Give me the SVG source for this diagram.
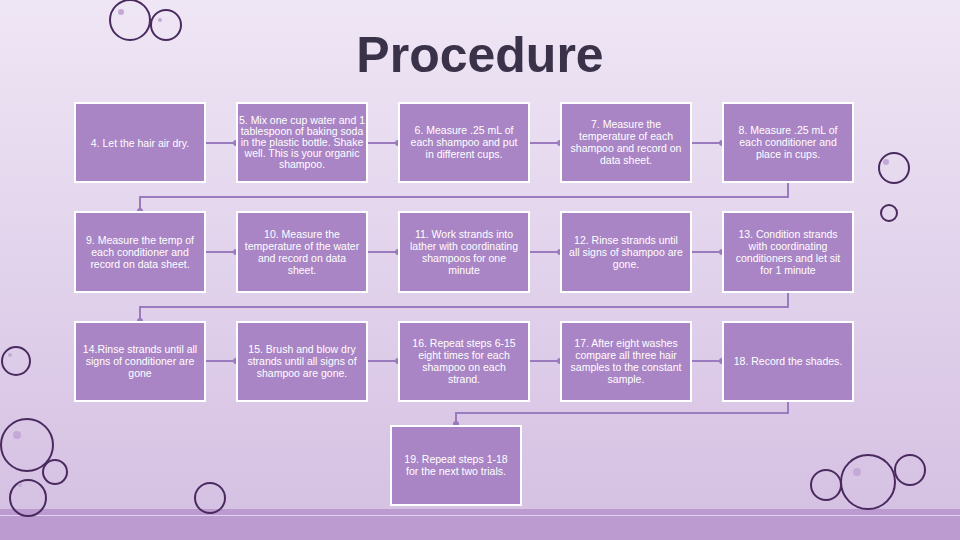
<svg xmlns="http://www.w3.org/2000/svg" width="960" height="540" viewBox="0 0 960 540">
<defs>
<linearGradient id="bg" x1="0" y1="0" x2="0" y2="1"><stop offset="0" stop-color="#efe6f5"/><stop offset="1" stop-color="#d4bfe2"/></linearGradient>
<marker id="m" viewBox="0 0 6 6" refX="3" refY="3" markerWidth="3" markerHeight="3"><circle cx="3" cy="3" r="3" fill="#9a7bbd"/></marker>
</defs>
<style>
.b{fill:#a985c5;stroke:#fff;stroke-width:2}
.t{font-family:"Liberation Sans",Arial,sans-serif;font-size:10.5px;fill:#fff;text-anchor:middle}
.c{fill:none;stroke:#9a7bbd;stroke-width:2;marker-end:url(#m)}
.o{fill:none;stroke:#4a2a5e;stroke-width:2}
.d{fill:#c4a9d6}
</style>
<rect width="960" height="540" fill="url(#bg)"/>
<rect y="509" width="960" height="31" fill="#bb9bd0"/>
<rect y="515" width="960" height="1" fill="#e2d2ec"/>
<g>
<circle class="o" cx="130" cy="20" r="20"/><circle class="d" cx="121" cy="12" r="3"/>
<circle class="o" cx="166" cy="25" r="15"/><circle class="d" cx="160" cy="20" r="2"/>
<circle class="o" cx="894" cy="168" r="15"/><circle class="d" cx="886" cy="162" r="3"/>
<circle class="o" cx="889" cy="213" r="8"/>
<circle class="o" cx="16" cy="361" r="14"/><circle class="d" cx="10" cy="355" r="2"/>
<circle class="o" cx="27" cy="445" r="26"/><circle class="d" cx="17" cy="435" r="4"/>
<circle class="o" cx="55" cy="472" r="12"/>
<circle class="o" cx="28" cy="498" r="18"/><circle class="d" cx="20" cy="485" r="2"/>
<circle class="o" cx="210" cy="498" r="15"/>
<circle class="o" cx="868" cy="482" r="27"/><circle class="d" cx="857" cy="472" r="4"/>
<circle class="o" cx="910" cy="470" r="15"/>
<circle class="o" cx="826" cy="485" r="15"/>
</g>
<text x="480" y="72" font-family="Liberation Sans,Arial,sans-serif" font-weight="bold" font-size="50" fill="#3a3248" text-anchor="middle">Procedure</text>
<g id="connectors">
<path class="c" d="M205 143H236"/><path class="c" d="M367 143H398"/><path class="c" d="M529 143H560"/><path class="c" d="M691 143H722"/>
<path class="c" d="M788 182V197H140V211"/>
<path class="c" d="M205 252H236"/><path class="c" d="M367 252H398"/><path class="c" d="M529 252H560"/><path class="c" d="M691 252H722"/>
<path class="c" d="M788 292V307H140V321"/>
<path class="c" d="M205 361H236"/><path class="c" d="M367 361H398"/><path class="c" d="M529 361H560"/><path class="c" d="M691 361H722"/>
<path class="c" d="M788 401V413H456V424"/>
</g>
<g id="n4"><rect class="b" x="75" y="103" width="130" height="79"/><text class="t" x="140" y="147">4. Let the hair air dry.</text></g>
<g id="n5"><rect class="b" x="237" y="103" width="130" height="79"/><text class="t" font-size="9.5" x="302" y="124">5. Mix one cup water and 1<tspan x="302" dy="11">tablespoon of baking soda</tspan><tspan x="302" dy="11">in the plastic bottle. Shake</tspan><tspan x="302" dy="11">well. This is your organic</tspan><tspan x="302" dy="11">shampoo.</tspan></text></g>
<g id="n6"><rect class="b" x="399" y="103" width="130" height="79"/><text class="t" x="464" y="134">6. Measure .25 mL of<tspan x="464" dy="12">each shampoo and put</tspan><tspan x="464" dy="12">in different cups.</tspan></text></g>
<g id="n7"><rect class="b" x="561" y="103" width="130" height="79"/><text class="t" x="626" y="128">7. Measure the<tspan x="626" dy="12">temperature of each</tspan><tspan x="626" dy="12">shampoo and record on</tspan><tspan x="626" dy="12">data sheet.</tspan></text></g>
<g id="n8"><rect class="b" x="723" y="103" width="130" height="79"/><text class="t" x="788" y="134">8. Measure .25 mL of<tspan x="788" dy="12">each conditioner and</tspan><tspan x="788" dy="12">place in cups.</tspan></text></g>
<g id="n9"><rect class="b" x="75" y="212" width="130" height="80"/><text class="t" x="140" y="244">9. Measure the temp of<tspan x="140" dy="12">each conditioner and</tspan><tspan x="140" dy="12">record on data sheet.</tspan></text></g>
<g id="n10"><rect class="b" x="237" y="212" width="130" height="80"/><text class="t" x="302" y="238">10. Measure the<tspan x="302" dy="12">temperature of the water</tspan><tspan x="302" dy="12">and record on data</tspan><tspan x="302" dy="12">sheet.</tspan></text></g>
<g id="n11"><rect class="b" x="399" y="212" width="130" height="80"/><text class="t" x="464" y="238">11. Work strands into<tspan x="464" dy="12">lather with coordinating</tspan><tspan x="464" dy="12">shampoos for one</tspan><tspan x="464" dy="12">minute</tspan></text></g>
<g id="n12"><rect class="b" x="561" y="212" width="130" height="80"/><text class="t" x="626" y="244">12. Rinse strands until<tspan x="626" dy="12">all signs of shampoo are</tspan><tspan x="626" dy="12">gone.</tspan></text></g>
<g id="n13"><rect class="b" x="723" y="212" width="130" height="80"/><text class="t" x="788" y="238">13. Condition strands<tspan x="788" dy="12">with coordinating</tspan><tspan x="788" dy="12">conditioners and let sit</tspan><tspan x="788" dy="12">for 1 minute</tspan></text></g>
<g id="n14"><rect class="b" x="75" y="322" width="130" height="79"/><text class="t" x="140" y="353">14.Rinse strands until all<tspan x="140" dy="12">signs of conditioner are</tspan><tspan x="140" dy="12">gone</tspan></text></g>
<g id="n15"><rect class="b" x="237" y="322" width="130" height="79"/><text class="t" x="302" y="353">15. Brush and blow dry<tspan x="302" dy="12">strands until all signs of</tspan><tspan x="302" dy="12">shampoo are gone.</tspan></text></g>
<g id="n16"><rect class="b" x="399" y="322" width="130" height="79"/><text class="t" x="464" y="347">16. Repeat steps 6-15<tspan x="464" dy="12">eight times for each</tspan><tspan x="464" dy="12">shampoo on each</tspan><tspan x="464" dy="12">strand.</tspan></text></g>
<g id="n17"><rect class="b" x="561" y="322" width="130" height="79"/><text class="t" x="626" y="347">17. After eight washes<tspan x="626" dy="12">compare all three hair</tspan><tspan x="626" dy="12">samples to the constant</tspan><tspan x="626" dy="12">sample.</tspan></text></g>
<g id="n18"><rect class="b" x="723" y="322" width="130" height="79"/><text class="t" x="788" y="365">18. Record the shades.</text></g>
<g id="n19"><rect class="b" x="391" y="426" width="130" height="79"/><text class="t" x="456" y="463">19. Repeat steps 1-18<tspan x="456" dy="12">for the next two trials.</tspan></text></g>
</svg>
